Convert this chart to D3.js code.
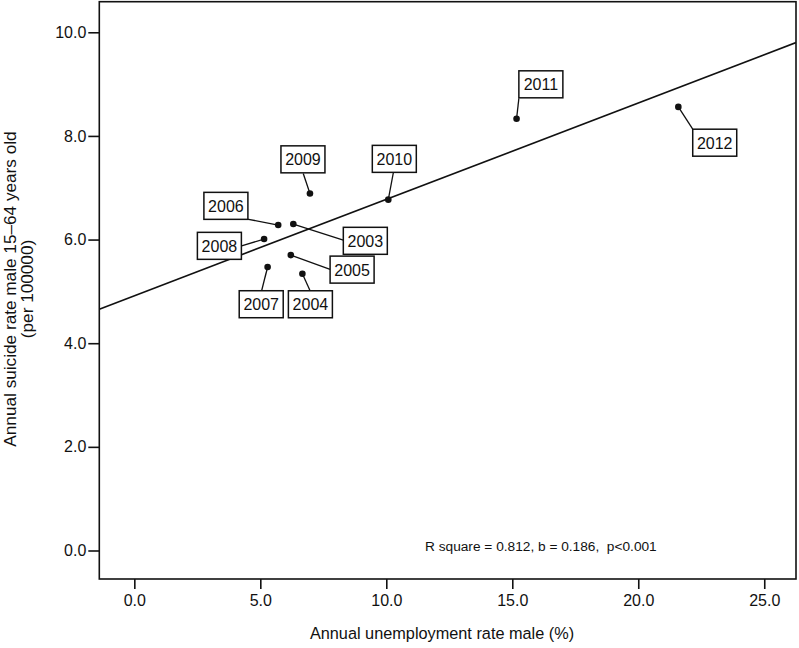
<!DOCTYPE html>
<html>
<head>
<meta charset="utf-8">
<script src="https://cdn.jsdelivr.net/npm/d3@7"></script>
<style>
  html, body { margin: 0; padding: 0; background: #fff; }
  svg { display: block; }
  text { font-family: "Liberation Sans", Arial, sans-serif; fill: #111; }
</style>
</head>
<body>
<script>
// ---- data ----
const years = ["2003","2004","2005","2006","2007","2008","2009","2010","2011","2012"];
const unemployment = [6.31, 6.67, 6.21, 5.71, 5.29, 5.15, 6.97, 10.08, 15.17, 21.59];
const suicideRate = [6.30, 5.34, 5.70, 6.28, 5.47, 6.01, 6.89, 6.77, 8.33, 8.56];
const xTicks = [0, 5, 10, 15, 20, 25];
const yTicks = [0, 2, 4, 6, 8, 10];
const fitIntercept = 4.916;
const fitSlope = 0.186;
const statsText = "R square = 0.812, b = 0.186,  p<0.001";
const xTitle = "Annual unemployment rate male (%)";
const yTitle = ["Annual suicide rate male 15\u201364 years old", "(per 100000)"];

// ---- layout (label box / leader offsets in px relative to point) ----
const labelLayout = {
  "2003": {bx: 50, by: 3.3, lx: 50, ly: 16},
  "2004": {bx: -14, by: 17, lx: 7.7, ly: 17},
  "2005": {bx: 39.3, by: 1, lx: 39.3, ly: 14.3},
  "2006": {bx: -74.3, by: -32.7, lx: -31, ly: -6},
  "2007": {bx: -28.4, by: 23.7, lx: -6, ly: 23.7},
  "2008": {bx: -66.7, by: -6.7, lx: -23.3, ly: 7},
  "2009": {bx: -29, by: -47.6, lx: -6.7, ly: -20},
  "2010": {bx: -16, by: -54.3, lx: 5, ly: -26.7},
  "2011": {bx: 2.3, by: -48, lx: 2.3, ly: -20.4},
  "2012": {bx: 14.4, by: 22.3, lx: 14.4, ly: 22.3}
};
const boxW = 44, boxH = 27;

const W = 799, H = 648;
const plot = {left: 99.3, right: 796, top: 1.7, bottom: 579};

const svg = d3.select("body").append("svg").attr("width", W).attr("height", H);

const x = d3.scaleLinear().domain([-1.39, 26.26]).range([plot.left, plot.right]);
const y = d3.scaleLinear().domain([-0.55, 10.59]).range([plot.bottom, plot.top]);

// frame
svg.append("rect")
  .attr("x", plot.left).attr("y", plot.top)
  .attr("width", plot.right - plot.left).attr("height", plot.bottom - plot.top)
  .attr("fill", "none").attr("stroke", "#111").attr("stroke-width", 1.6);

// axes
const fmt = d3.format(".1f");
const xAxis = svg.append("g")
  .attr("transform", `translate(0,${plot.bottom})`)
  .call(d3.axisBottom(x).tickValues(xTicks).tickFormat(fmt).tickSize(10).tickSizeOuter(0).tickPadding(6));
const yAxis = svg.append("g")
  .attr("transform", `translate(${plot.left},0)`)
  .call(d3.axisLeft(y).tickValues(yTicks).tickFormat(fmt).tickSize(11).tickSizeOuter(0).tickPadding(2));
[xAxis, yAxis].forEach(g => {
  g.select(".domain").remove();
  g.selectAll(".tick line").attr("stroke", "#111").attr("stroke-width", 1.6);
  g.selectAll(".tick text").attr("font-size", 16).attr("font-family", "Liberation Sans, Arial, sans-serif").attr("fill", "#111");
});

// clip for regression line
svg.append("clipPath").attr("id", "clip").append("rect")
  .attr("x", plot.left).attr("y", plot.top)
  .attr("width", plot.right - plot.left).attr("height", plot.bottom - plot.top);

const xd = x.domain();
svg.append("line")
  .attr("clip-path", "url(#clip)")
  .attr("x1", x(xd[0])).attr("y1", y(fitIntercept + fitSlope * xd[0]))
  .attr("x2", x(xd[1])).attr("y2", y(fitIntercept + fitSlope * xd[1]))
  .attr("stroke", "#111").attr("stroke-width", 1.6);

// points and labels
const pts = years.map((yr, i) => ({year: yr, x: unemployment[i], y: suicideRate[i]}));
const g = svg.append("g");
pts.forEach(p => {
  const px = x(p.x), py = y(p.y);
  const L = labelLayout[p.year];
  g.append("line")
    .attr("x1", px).attr("y1", py).attr("x2", px + L.lx).attr("y2", py + L.ly)
    .attr("stroke", "#111").attr("stroke-width", 1.3);
  g.append("circle").attr("cx", px).attr("cy", py).attr("r", 3.3).attr("fill", "#111");
  g.append("rect")
    .attr("x", px + L.bx).attr("y", py + L.by).attr("width", boxW).attr("height", boxH)
    .attr("fill", "#fff").attr("stroke", "#111").attr("stroke-width", 1.5);
  g.append("text")
    .attr("x", px + L.bx + boxW / 2).attr("y", py + L.by + boxH / 2 + 6)
    .attr("text-anchor", "middle").attr("font-size", 16).text(p.year);
});

// stats text
svg.append("text").attr("x", 425).attr("y", 551).attr("font-size", 13.7)
  .style("white-space", "pre").attr("xml:space", "preserve").text(statsText);

// axis titles
svg.append("text").attr("x", 442).attr("y", 639).attr("text-anchor", "middle")
  .attr("font-size", 16.3).text(xTitle);
const yt = svg.append("text").attr("text-anchor", "middle")
  .attr("transform", `translate(0,289) rotate(-90)`).attr("font-size", 17.2);
yt.append("tspan").attr("x", 0).attr("y", 15.5).text(yTitle[0]);
yt.append("tspan").attr("x", 0).attr("y", 33).text(yTitle[1]);
</script>
</body>
</html>
